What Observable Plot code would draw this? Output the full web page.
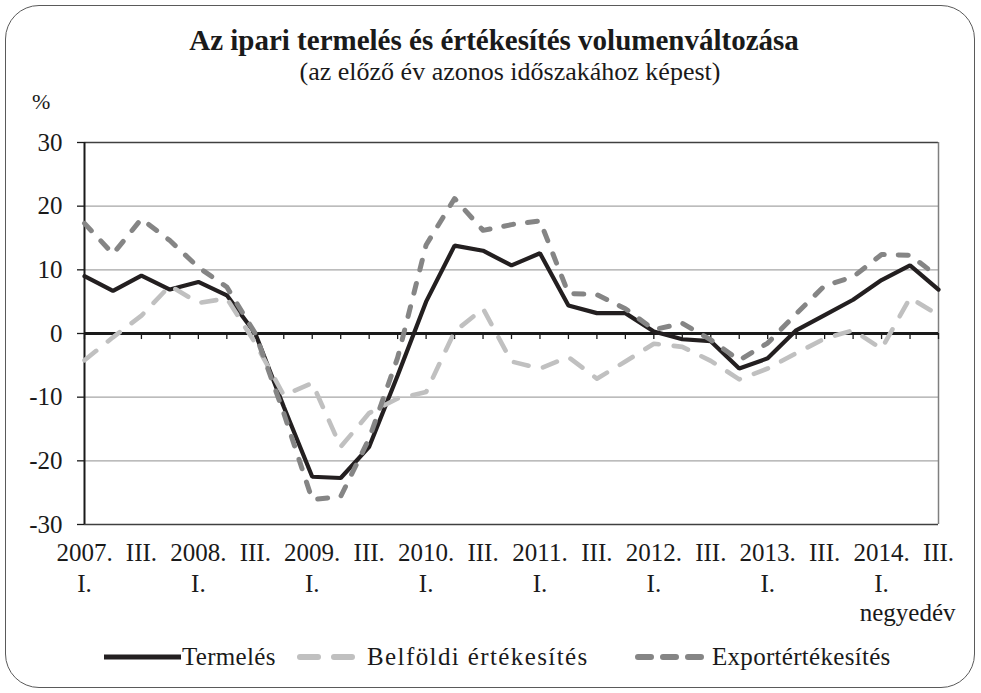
<!DOCTYPE html>
<html>
<head>
<meta charset="utf-8">
<script src="https://cdn.jsdelivr.net/npm/d3@7"></script>
<script src="https://cdn.jsdelivr.net/npm/@observablehq/plot@0.6"></script>
<style>
  body { margin: 0; background: #fff; font-family: "Liberation Serif", serif; color: #1a1a1a; }
  #wrap { position: relative; width: 981px; height: 693px; overflow: hidden; }
  #frame { position: absolute; left: 5px; top: 5px; width: 970px; height: 683px; border: 1.5px solid #5a5a5a; border-radius: 34px; box-sizing: border-box; }
  #title { position: absolute; top: 24px; left: 0; width: 988px; text-align: center; font-weight: bold; font-size: 29px; line-height: 32px; }
  #subtitle { position: absolute; top: 57px; left: 0; width: 1020px; text-align: center; font-size: 26px; line-height: 30px; }
  #pct { position: absolute; top: 90px; left: 32px; font-size: 22px; line-height: 24px; }
  #chart { position: absolute; top: 90px; left: 0; }
  .leg { position: absolute; font-size: 25px; line-height: 28px; white-space: nowrap; }
  .legsw { position: absolute; }
</style>
</head>
<body>
<div id="wrap">
  <div id="frame"></div>
  <div id="title">Az ipari termelés és értékesítés volumenváltozása</div>
  <div id="subtitle">(az előző év azonos időszakához képest)</div>
  <div id="pct">%</div>
  <div id="chart"></div>
  <div id="legend"></div>
</div>
<script>
// ---- data (2007 Q1 – 2014 Q3), % change vs same period of previous year ----
const years = [2007, 2008, 2009, 2010, 2011, 2012, 2013, 2014];
const quarterNames = ["I.", "II.", "III.", "IV."];
const termeles = [9.0, 6.7, 9.1, 6.9, 8.1, 6.0, 0.0, -11.5, -22.5, -22.7, -17.8, -6.6, 5.0, 13.8, 13.0, 10.7, 12.6, 4.4, 3.2, 3.2, 0.3, -0.9, -1.2, -5.5, -3.9, 0.5, 2.9, 5.3, 8.4, 10.7, 6.9];
const belfoldi = [-4.2, -0.6, 2.8, 7.5, 4.8, 5.5, -1.5, -9.7, -7.8, -17.8, -12.5, -10.2, -9.2, 0.3, 3.9, -4.4, -5.5, -3.7, -7.1, -4.4, -1.6, -2.1, -4.3, -7.2, -5.5, -3.1, -0.8, 0.5, -2.4, 5.6, 2.9];
const exportErt = [17.3, 12.5, 18.0, 14.6, 10.4, 7.3, 0.0, -12.5, -26.1, -25.6, -16.5, -3.8, 13.9, 21.2, 16.2, 17.1, 17.7, 6.3, 6.1, 3.9, 0.6, 1.6, -1.0, -4.2, -1.5, 3.1, 7.5, 8.9, 12.4, 12.3, 8.9];
const yTicks = [-30, -20, -10, 0, 10, 20, 30];
const gridLines = [-20, -10, 10, 20];
const seriesNames = ["Termelés", "Belföldi értékesítés", "Exportértékesítés"];
const colors = ["#231f20", "#c0c0c0", "#858585"];
const FONT = "Liberation Serif, serif";

// ---- build table ----
const idx = termeles.map((_, i) => i);
const quarterLabel = i => {
  const y = years[Math.floor(i / 4)], q = i % 4;
  if (q === 0) return y + ".\n" + quarterNames[0];
  if (q === 2) return quarterNames[2];
  return "";
};
const rows = [];
[termeles, belfoldi, exportErt].forEach((arr, s) => arr.forEach((v, i) => rows.push({ i, v, s: seriesNames[s] })));
const bySeries = name => rows.filter(d => d.s === name);

const chart = Plot.plot({
  width: 981,
  height: 545,
  marginLeft: 84,
  marginRight: 43,
  marginTop: 52,
  marginBottom: 111,
  style: { fontFamily: FONT, fontSize: "25px", color: "#1a1a1a", background: "transparent" },
  x: { domain: [0, idx.length - 1] },
  y: { domain: [-30, 30] },
  marks: [
    Plot.ruleY(gridLines, { stroke: "#a6a6a6", strokeWidth: 1.4 }),
    Plot.ruleY([30], { stroke: "#404040", strokeWidth: 1.5 }),
    Plot.ruleY([-30], { stroke: "#404040", strokeWidth: 1.5 }),
    Plot.ruleX([idx.length - 1], { stroke: "#7f7f7f", strokeWidth: 1.5 }),
    Plot.axisY({ ticks: yTicks, tickFormat: d => String(d), tickSize: 7, tickPadding: 15, fontSize: 25, fontFamily: FONT, label: null, strokeWidth: 1.3 }),
    Plot.ruleX([0], { stroke: "#1a1a1a", strokeWidth: 2 }),
    Plot.axisX({ ticks: idx, tickFormat: quarterLabel, tickSize: 0, tickPadding: 15, fontSize: 25, fontFamily: FONT, lineHeight: 1.22, label: null }),
    Plot.ruleX(idx, { y1: 0, y2: -0.95, stroke: "#1a1a1a", strokeWidth: 1.3 }),
    Plot.ruleY([0], { stroke: "#1a1a1a", strokeWidth: 3 }),
    Plot.line(bySeries(seriesNames[0]), { x: "i", y: "v", stroke: colors[0], strokeWidth: 4.2, strokeLinejoin: "miter" }),
    Plot.line(bySeries(seriesNames[1]), { x: "i", y: "v", stroke: colors[1], strokeWidth: 4.6, strokeDasharray: "15,15", strokeLinecap: "round" }),
    Plot.line(bySeries(seriesNames[2]), { x: "i", y: "v", stroke: colors[2], strokeWidth: 5, strokeDasharray: "10,14", strokeLinecap: "round" }),
    Plot.text(["negyedév"], { frameAnchor: "bottom-right", dx: 17, dy: 96, textAnchor: "end", fontSize: 25, fontFamily: FONT })
  ]
});
document.getElementById("chart").appendChild(chart);

// ---- legend ----
const legend = document.getElementById("legend");
const legItems = [
  { name: seriesNames[0], color: colors[0], dash: null, w: 5, sx: 104, sw: 77, tx: 182, ls: 0.3 },
  { name: seriesNames[1], color: colors[1], dash: "18,16", w: 6, sx: 296, sw: 62, tx: 367, ls: 1.4 },
  { name: seriesNames[2], color: colors[2], dash: "13,12", w: 6, sx: 634, sw: 72, tx: 712, ls: 0.3 }
];
legItems.forEach(it => {
  const svg = d3.create("svg").attr("class", "legsw").attr("width", it.sw).attr("height", 14)
    .style("left", it.sx + "px").style("top", "650px");
  const ln = svg.append("line").attr("x1", it.dash ? 4 : 0).attr("x2", it.dash ? it.sw - 3 : it.sw)
    .attr("y1", 7).attr("y2", 7).attr("stroke", it.color).attr("stroke-width", it.w);
  if (it.dash) ln.attr("stroke-dasharray", it.dash).attr("stroke-linecap", "round");
  legend.appendChild(svg.node());
  const t = document.createElement("div");
  t.className = "leg";
  t.style.left = it.tx + "px";
  t.style.top = "643px";
  t.style.letterSpacing = it.ls + "px";
  t.textContent = it.name;
  legend.appendChild(t);
});
</script>
</body>
</html>
